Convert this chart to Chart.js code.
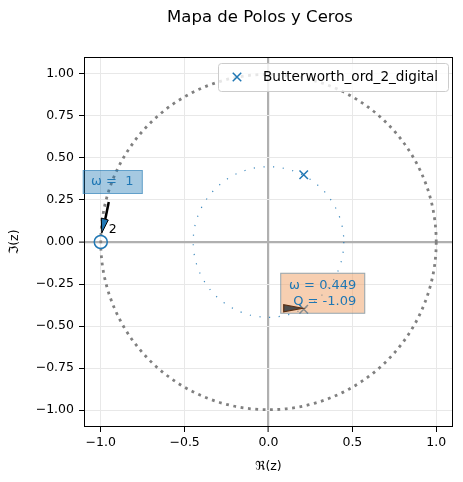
<!DOCTYPE html>
<html>
<head>
<meta charset="utf-8">
<script src="https://cdn.jsdelivr.net/npm/chart.js@4.4.0/dist/chart.umd.min.js"></script>
<style>
  html, body { margin: 0; padding: 0; background: #fff; }
  #wrap { width: 463px; height: 482px; }
</style>
</head>
<body>
<div id="wrap"><canvas id="pzChart" width="463" height="482"></canvas></div>
<script>
const chartTitle = 'Mapa de Polos y Ceros';
const seriesLabel = 'Butterworth_ord_2_digital';
const poles = [{ x: 0.21, y: 0.40 }, { x: 0.21, y: -0.40 }];
const zeros = [{ x: -1.0, y: 0.0 }];
const zeroMultiplicity = ['2'];
const circleRadii = [1, 0.449];
const xTicks = [-1, -0.5, 0, 0.5, 1];
const xTickLabels = ['\u22121.0', '\u22120.5', '0.0', '0.5', '1.0'];
const yTicks = [-1, -0.75, -0.5, -0.25, 0, 0.25, 0.5, 0.75, 1];
const yTickLabels = ['\u22121.00', '\u22120.75', '\u22120.50', '\u22120.25', '0.00', '0.25', '0.50', '0.75', '1.00'];
const zeroNote = ['\u03c9 =  1'];
const poleNote = ['\u03c9 = 0.449', 'Q = -1.09'];

const FONT = "'DejaVu Sans', sans-serif";
const BLUE = '#1f77b4';
const BASE = 12.5;

const extras = {
  id: 'extras',
  beforeDatasetsDraw(chart) {
    const { ctx, scales: { x, y } } = chart;
    const cx = x.getPixelForValue(0), cy = y.getPixelForValue(0);
    const unit = x.getPixelForValue(1) - cx;
    ctx.save();
    // unit circle
    ctx.beginPath();
    ctx.arc(cx, cy, unit * circleRadii[0], 0, Math.PI * 2);
    ctx.setLineDash([2.8, 4.6]);
    ctx.lineWidth = 2.8;
    ctx.strokeStyle = '#808080';
    ctx.stroke();
    // natural frequency circle
    ctx.beginPath();
    ctx.arc(cx, cy, unit * circleRadii[1], 0, Math.PI * 2);
    ctx.setLineDash([1.2, 8.5]);
    ctx.lineWidth = 1.2;
    ctx.strokeStyle = 'rgba(31,119,180,0.85)';
    ctx.stroke();
    ctx.restore();
  },
  afterDatasetsDraw(chart) {
    const { ctx, chartArea: a, scales: { x, y } } = chart;
    ctx.save();
    // frame
    ctx.strokeStyle = '#000';
    ctx.lineWidth = 1;
    ctx.strokeRect(a.left + 0.5, a.top + 0.5, a.right - a.left - 1, a.bottom - a.top - 1);

    // multiplicity of the zero
    const zx = x.getPixelForValue(zeros[0].x), zy = y.getPixelForValue(zeros[0].y);
    ctx.fillStyle = '#000';
    ctx.font = BASE + 'px ' + FONT;
    ctx.textAlign = 'center';
    ctx.textBaseline = 'middle';
    ctx.fillText(zeroMultiplicity[0], zx + 12, zy - 12);

    // zero annotation: arrow + box
    ctx.beginPath();
    ctx.moveTo(zx + 8, zy - 40);
    ctx.lineTo(zx + 4.5, zy - 23);
    ctx.lineWidth = 2.5;
    ctx.strokeStyle = '#000';
    ctx.stroke();
    ctx.beginPath();
    ctx.moveTo(zx + 1, zy - 9);
    ctx.lineTo(zx + 0.5, zy - 24);
    ctx.lineTo(zx + 7.5, zy - 22);
    ctx.closePath();
    ctx.fillStyle = BLUE;
    ctx.fill();
    ctx.lineWidth = 1;
    ctx.stroke();

    const b1x = zx + 12, b1y = zy - 60;
    ctx.fillStyle = 'rgba(31,119,180,0.4)';
    ctx.strokeStyle = 'rgba(31,119,180,0.5)';
    ctx.fillRect(b1x - 30, b1y - 12, 60, 24);
    ctx.strokeRect(b1x - 30 + 0.5, b1y - 12 + 0.5, 59, 23);
    ctx.fillStyle = BLUE;
    ctx.font = '13px ' + FONT;
    ctx.fillText(zeroNote[0], b1x - 0.5, b1y);

    // pole annotation: wedge + box
    const px = x.getPixelForValue(poles[1].x), py = y.getPixelForValue(poles[1].y);
    const b2x = px + 19, b2y = py - 16;
    ctx.fillStyle = 'rgba(240,160,100,0.5)';
    ctx.strokeStyle = 'rgba(31,119,180,0.45)';
    ctx.fillRect(b2x - 42.5, b2y - 20.5, 85, 41);
    ctx.strokeRect(b2x - 42.5 + 0.5, b2y - 20.5 + 0.5, 84, 40);
    ctx.fillStyle = BLUE;
    ctx.fillText(poleNote[0], b2x, b2y - 7.5);
    ctx.fillText(poleNote[1], b2x + 2, b2y + 8.5);

    ctx.beginPath();
    ctx.moveTo(px - 1, py - 1);
    ctx.lineTo(px - 20, py - 4.5);
    ctx.lineTo(px - 20, py + 2.5);
    ctx.closePath();
    ctx.fillStyle = '#4d4d4d';
    ctx.fill();
    ctx.strokeStyle = '#5a2e12';
    ctx.lineWidth = 1.2;
    ctx.stroke();

    // legend
    const lx = 218, ly = 63, lw = 230, lh = 28;
    ctx.beginPath();
    ctx.roundRect(lx + 0.5, ly + 0.5, lw, lh, 3);
    ctx.fillStyle = 'rgba(255,255,255,0.8)';
    ctx.fill();
    ctx.strokeStyle = '#cccccc';
    ctx.lineWidth = 1;
    ctx.stroke();
    ctx.strokeStyle = BLUE;
    ctx.lineWidth = 1.5;
    Chart.helpers.drawPoint(ctx, { pointStyle: 'crossRot', radius: 6, borderWidth: 1.5, rotation: 0 }, lx + 19, ly + 14);
    ctx.fillStyle = '#000';
    ctx.font = '13.6px ' + FONT;
    ctx.textAlign = 'left';
    ctx.fillText(chart.data.datasets[0].label, lx + 45, ly + 14.5);

    // title
    ctx.font = '16.5px ' + FONT;
    ctx.textAlign = 'center';
    ctx.fillText(chartTitle, 260, 18);
    ctx.restore();
  }
};

const gridOpts = {
  color: (c) => (c.tick && c.tick.value === 0 ? '#b0b0b0' : '#e8e8e8'),
  lineWidth: (c) => (c.tick && c.tick.value === 0 ? 2.2 : 1),
  tickColor: '#000',
  tickLength: 5,
  tickWidth: 1
};

new Chart(document.getElementById('pzChart'), {
  type: 'scatter',
  data: {
    datasets: [{
      label: seriesLabel,
      data: poles,
      pointStyle: 'crossRot',
      radius: 6,
      borderColor: BLUE,
      backgroundColor: BLUE,
      borderWidth: 1.5
    }, {
      label: 'zeros',
      data: zeros,
      pointStyle: 'circle',
      radius: 6.5,
      borderColor: BLUE,
      backgroundColor: 'rgba(0,0,0,0)',
      borderWidth: 1.5
    }]
  },
  options: {
    responsive: false,
    animation: false,
    events: [],
    layout: { padding: { top: 57, right: 10, left: 0, bottom: 0 } },
    plugins: { legend: { display: false }, title: { display: false }, tooltip: { enabled: false } },
    scales: {
      x: {
        type: 'linear', min: -1.1, max: 1.1,
        afterBuildTicks: (s) => { s.ticks = xTicks.map((v) => ({ value: v })); },
        afterFit: (s) => { s.height = 55; },
        ticks: { callback: (v, i) => xTickLabels[i], color: '#000', font: { family: FONT, size: BASE }, padding: 3, maxRotation: 0 },
        grid: gridOpts,
        border: { display: false },
        title: { display: true, text: '\u211c(z)', color: '#000', font: { family: FONT, size: BASE }, padding: { top: 0, bottom: 8 } }
      },
      y: {
        type: 'linear', min: -1.1, max: 1.1,
        afterBuildTicks: (s) => { s.ticks = yTicks.map((v) => ({ value: v })); },
        afterFit: (s) => { s.width = 84; },
        ticks: { callback: (v, i) => yTickLabels[i], color: '#000', font: { family: FONT, size: BASE }, padding: 5 },
        grid: gridOpts,
        border: { display: false },
        title: { display: true, text: '\u2111(z)', color: '#000', font: { family: FONT, size: BASE }, padding: { top: 7, bottom: 0 } }
      }
    }
  },
  plugins: [extras]
});
</script>
</body>
</html>
